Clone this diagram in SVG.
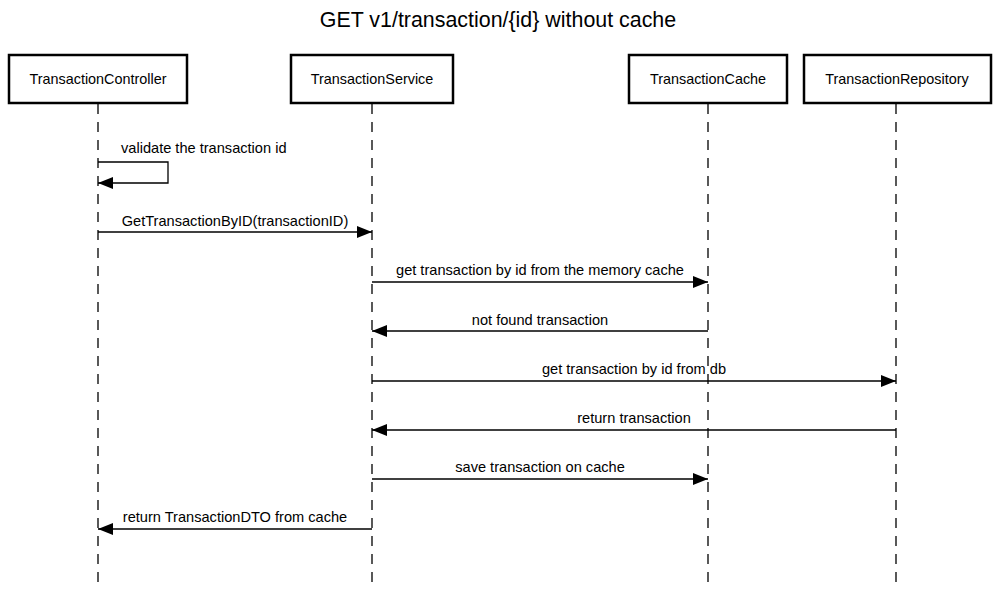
<svg xmlns="http://www.w3.org/2000/svg" width="997" height="590" viewBox="0 0 997 590">
<style>
.box{fill:#fff;stroke:#000;stroke-width:2.5}
.life{stroke:#000;stroke-width:1.3;stroke-dasharray:10,8;fill:none}
.msg{stroke:#000;stroke-width:1.3;fill:none}
text{font-family:"Liberation Sans",Arial,sans-serif;fill:#000}
.lbl{font-size:14.6px;text-anchor:middle}
.nm{font-size:14.4px;text-anchor:middle}
</style>
<defs>
<marker id="ah" viewBox="0 0 15 12" refX="15" refY="6" markerWidth="15" markerHeight="12" markerUnits="userSpaceOnUse" orient="auto">
<path d="M0,0 L15,6 L0,12 z" fill="#000"/>
</marker>
</defs>
<rect width="997" height="590" fill="#fff"/>
<text x="498" y="27" font-size="21.4" text-anchor="middle">GET v1/transaction/{id} without cache</text>
<g id="lifelines">
<line class="life" x1="98" y1="104" x2="98" y2="590"/>
<line class="life" x1="372" y1="104" x2="372" y2="590"/>
<line class="life" x1="708" y1="104" x2="708" y2="590"/>
<line class="life" x1="896" y1="104" x2="896" y2="590"/>
</g>
<g id="TransactionController"><rect class="box" x="9" y="55" width="178" height="48"/><text class="nm" x="98" y="84">TransactionController</text></g>
<g id="TransactionService"><rect class="box" x="291" y="55" width="162" height="48"/><text class="nm" x="372" y="84">TransactionService</text></g>
<g id="TransactionCache"><rect class="box" x="629" y="55" width="158" height="48"/><text class="nm" x="708" y="84">TransactionCache</text></g>
<g id="TransactionRepository"><rect class="box" x="804" y="55" width="187" height="48"/><text class="nm" x="897" y="84">TransactionRepository</text></g>
<g id="connectors">
<polyline class="msg" points="98,162 168,162 168,183 98,183" marker-end="url(#ah)"/>
<text class="lbl" x="121" y="153" style="text-anchor:start">validate the transaction id</text>
<line class="msg" x1="98" y1="232" x2="372" y2="232" marker-end="url(#ah)"/>
<text class="lbl" x="235" y="226">GetTransactionByID(transactionID)</text>
<line class="msg" x1="372" y1="282" x2="708" y2="282" marker-end="url(#ah)"/>
<text class="lbl" x="540" y="275">get transaction by id from the memory cache</text>
<line class="msg" x1="708" y1="331" x2="372" y2="331" marker-end="url(#ah)"/>
<text class="lbl" x="540" y="325">not found transaction</text>
<line class="msg" x1="372" y1="381" x2="896" y2="381" marker-end="url(#ah)"/>
<text class="lbl" x="634" y="374">get transaction by id from db</text>
<line class="msg" x1="896" y1="430" x2="372" y2="430" marker-end="url(#ah)"/>
<text class="lbl" x="634" y="423">return transaction</text>
<line class="msg" x1="372" y1="479" x2="708" y2="479" marker-end="url(#ah)"/>
<text class="lbl" x="540" y="472">save transaction on cache</text>
<line class="msg" x1="372" y1="529" x2="98" y2="529" marker-end="url(#ah)"/>
<text class="lbl" x="235" y="522">return TransactionDTO from cache</text>
</g>
</svg>
